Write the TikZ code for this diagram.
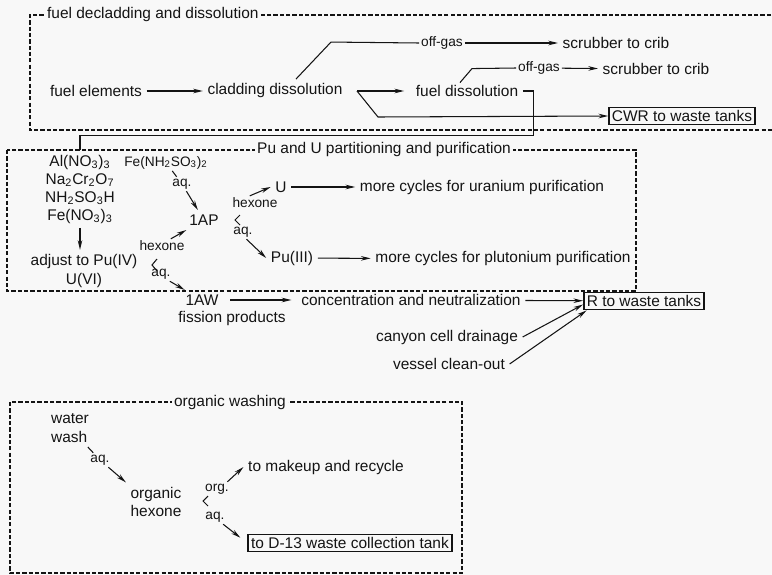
\documentclass[tikz,border=0pt]{standalone}
\usepackage{fontspec}
\setmainfont{Liberation Sans}
\usepackage{tikz}
\usetikzlibrary{arrows.meta, calc}
\definecolor{paper}{RGB}{248,248,248}
\definecolor{ink}{RGB}{20,20,20}

\begin{document}
\begin{tikzpicture}[
    x=0.02cm, y=-0.02cm,
    every node/.style={font=\fontsize{8.8}{10.5}\selectfont, inner sep=2.5pt, text=ink},
    flowtag/.style={font=\fontsize{7.8}{9}\selectfont, inner sep=1pt},
    wastebox/.style={draw=ink, line width=1.1pt, inner sep=1.6pt},
    stagebox/.style={draw=ink, line width=1pt, dash pattern=on 2.4pt off 1.2pt},
    stagetitle/.style={fill=paper, inner sep=1pt},
    flowline/.style={draw=ink, line width=0.6pt},
    flowarrow/.style={flowline, -{Stealth[length=5.5pt, width=2.6pt]}}
]
\useasboundingbox (0,0) rectangle (772,575);
\fill[paper] (0,0) rectangle (772,575);

% Top: fuel decladding and dissolution
\draw[stagebox] (790,15) -- (30,15) -- (30,130) -- (790,130);
\node[stagetitle, anchor=west] (declad) at (45,15) {fuel decladding and dissolution};
\node (fuelel) at (96,91) {fuel elements};
\node (clad) at (275,91) {cladding dissolution};
\node (fueldis) at (467,91) {fuel dissolution};
\node[flowtag] (offgasA) at (442,43) {off-gas};
\node (scrubA) at (616,43) {scrubber to crib};
\node[flowtag] (offgasB) at (539,68) {off-gas};
\node (scrubB) at (656,69) {scrubber to crib};
\node[wastebox] (cwr) at (682,116) {CWR to waste tanks};
\coordinate (cladfork) at (357,91);

% Middle: Pu and U partitioning and purification
\draw[stagebox] (7,150) rectangle (636,291);
\node[stagetitle] (puu) at (384,150) {Pu and U partitioning and purification};
\node[anchor=base] (alno) at (80,166) {Al(NO\textsubscript{3})\textsubscript{3}};
\node[anchor=base] (nacr) at (80,184) {Na\textsubscript{2}Cr\textsubscript{2}O\textsubscript{7}};
\node[anchor=base] (sulf) at (80,202) {NH\textsubscript{2}SO\textsubscript{3}H};
\node[anchor=base] (feno) at (80,220) {Fe(NO\textsubscript{3})\textsubscript{3}};
\node[align=center] (adjust) at (84,271) {adjust to Pu(IV)\\U(VI)};
\node[flowtag, anchor=base] (ferr) at (166,166) {Fe(NH\textsubscript{2}SO\textsubscript{3})\textsubscript{2}};
\node[flowtag] (aqAP) at (182,184) {aq.};
\node (ap) at (204,220) {1AP};
\coordinate (apfork) at (235,220);
\node[flowtag] (hexU) at (255,203) {hexone};
\node[flowtag] (aqPu) at (243,232) {aq.};
\node (unode) at (281,187) {U};
\node (moreU) at (482,187) {more cycles for uranium purification};
\node (pu) at (292,258) {Pu(III)};
\node (morePu) at (503,259) {more cycles for plutonium purification};
\coordinate (adfork) at (152,265);
\node[flowtag] (hexAP) at (162,246) {hexone};
\node[flowtag] (aqAW) at (161,274) {aq.};

% Waste streams
\node (aw) at (202,300) {1AW};
\node (fp) at (232,319) {fission products};
\node (conc) at (411,300) {concentration and neutralization};
\node[wastebox] (rtank) at (644,301) {R to waste tanks};
\node (canyon) at (447,337) {canyon cell drainage};
\node (vessel) at (449,364) {vessel clean-out};

% Bottom: organic washing
\draw[stagebox] (10,402) rectangle (462,573);
\node[stagetitle] (orgwash) at (230,402) {organic washing};
\node[align=left] (wash) at (70,428) {water\\wash};
\node[flowtag] (aqOH) at (100,460) {aq.};
\node[align=left] (orghex) at (156,502) {organic\\hexone};
\coordinate (ohfork) at (203,501);
\node[flowtag] (orgMk) at (217,489) {org.};
\node[flowtag] (aqD) at (215,517) {aq.};
\node (makeup) at (326,467) {to makeup and recycle};
\node[wastebox] (dtank) at (350,543) {to D-13 waste collection tank};

% Connections, top
\draw[flowarrow] (fuelel) -- (clad);
\draw[flowarrow, shorten >=4pt] (cladfork) -- (fueldis);
\draw[flowarrow] (cladfork) -- ++(21,26) -- (cwr.west);
\draw[flowline] ($(clad.north)+(21,0)$) -- ++(35,-37) -- (offgasA.west);
\draw[flowarrow] (offgasA) -- (scrubA);
\draw[flowline] ($(fueldis.north)+(-7,2)$) -- ++(12,-14) -- (offgasB.west);
\draw[flowarrow] (offgasB) -- (scrubB);
\draw[flowline] (fueldis.east) -- ++(11,0) |- ($(alno.north)+(0,-15)$) -- (alno.north);

% Connections, partitioning
\draw[flowarrow] (feno) -- (feno |- adjust.north);
\draw[flowline] (ferr) -- (aqAP);
\draw[flowarrow] (aqAP) -- (ap);
\draw[flowline] ($(apfork)+(5,-5)$) -- (apfork) -- ++(5,5);
\draw[flowarrow] ([xshift=-3pt]hexU.north) -- (unode.west);
\draw[flowarrow] ([xshift=2pt]aqPu.south) -- (pu.west);
\draw[flowarrow] (unode) -- (moreU);
\draw[flowarrow] (pu) -- (morePu);
\draw[flowline] ($(adfork)+(5,-6)$) -- (adfork) -- ++(5,6);
\draw[flowarrow] ([xshift=5pt]hexAP.north) -- (ap);
\draw[flowarrow] ([xshift=5pt]aqAW.south) -- (aw);

% Connections, waste
\draw[flowarrow, shorten <=4pt, shorten >=3pt] (aw) -- (conc);
\draw[flowarrow] (conc) -- (rtank);
\draw[flowarrow] (canyon.east) -- ([yshift=-2pt]rtank.west);
\draw[flowarrow] (vessel.east) -- ([xshift=2pt]rtank.south west);

% Connections, organic washing
\draw[flowline] (wash) -- (aqOH);
\draw[flowarrow] (aqOH) -- (orghex.north west);
\draw[flowline] ($(ohfork)+(5,-5)$) -- (ohfork) -- ++(5,5);
\draw[flowarrow] ([xshift=-2pt]orgMk.north east) -- (makeup.west);
\draw[flowarrow] ([xshift=-2pt]aqD.south east) -- ([xshift=-4pt,yshift=3pt]dtank.west);

\end{tikzpicture}
\end{document}
